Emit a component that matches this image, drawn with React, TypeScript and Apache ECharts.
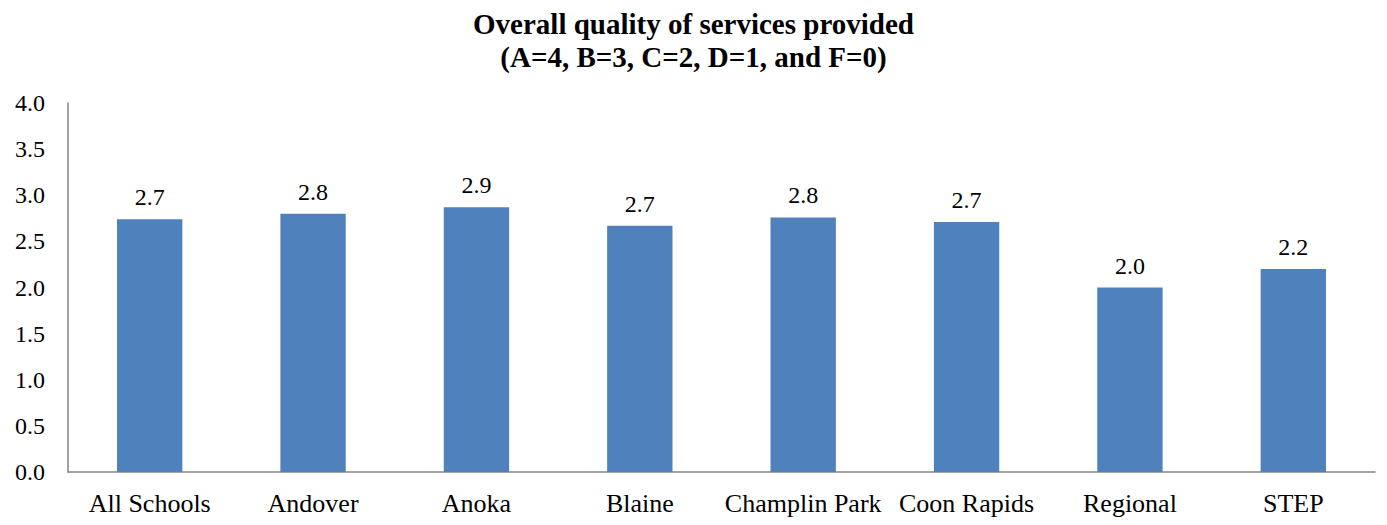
import React, { useEffect, useRef } from "react";
import * as echarts from "echarts";

const categories = ["All Schools", "Andover", "Anoka", "Blaine", "Champlin Park", "Coon Rapids", "Regional", "STEP"];
const values = [2.74, 2.8, 2.87, 2.67, 2.76, 2.71, 2.0, 2.2];
const titleLines = ["Overall quality of services provided", "(A=4, B=3, C=2, D=1, and F=0)"];

const FONT = "'Times New Roman', 'Liberation Serif', serif";

export default function App() {
  const ref = useRef<HTMLDivElement>(null);
  useEffect(() => {
    if (!ref.current) return;
    const chart = echarts.init(ref.current, undefined, { renderer: "svg" });
    const titleStyle = { fontFamily: FONT, fontWeight: "bold", fontSize: 29, lineHeight: 29, color: "#000" };
    chart.setOption({
      animation: false,
      title: titleLines.map((t, i) => ({
        text: t,
        left: "center",
        top: 1 + i * 33,
        padding: 0,
        textStyle: titleStyle,
      })),
      grid: { left: 60, right: 4, top: 95, bottom: 45, containLabel: false },
      xAxis: {
        type: "category",
        data: categories,
        axisLine: { lineStyle: { color: "#868686", width: 1.5 } },
        axisTick: { show: false },
        axisLabel: { fontFamily: FONT, fontSize: 26, color: "#000", margin: 18, interval: 0 },
      },
      yAxis: {
        type: "value",
        min: 0,
        max: 4,
        interval: 0.5,
        axisLine: { show: true, lineStyle: { color: "#868686", width: 1.5 } },
        axisTick: { show: false },
        splitLine: { show: false },
        axisLabel: {
          fontFamily: FONT,
          fontSize: 24,
          color: "#000",
          margin: 23,
          formatter: (v: number) => v.toFixed(1),
        },
      },
      series: [
        {
          type: "bar",
          data: values,
          barWidth: "40%",
          itemStyle: { color: "#4F81BD" },
          label: {
            show: true,
            position: "top",
            distance: 10,
            fontFamily: FONT,
            fontSize: 24,
            color: "#000",
            formatter: (p: any) => Number(p.value).toFixed(1),
          },
        },
      ],
    });
    return () => chart.dispose();
  }, []);
  return <div ref={ref} style={{ width: 1371, height: 509 }} />;
}
